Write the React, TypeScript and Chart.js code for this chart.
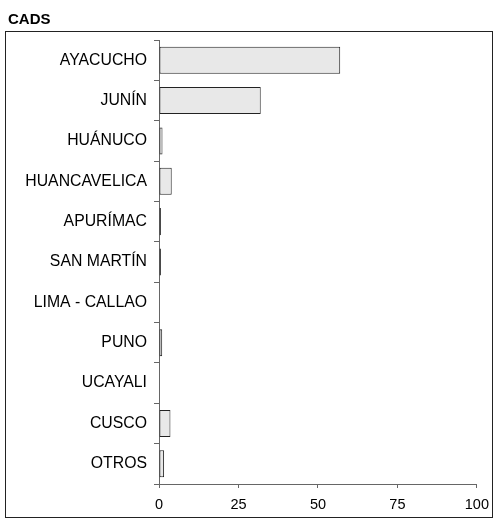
import React, { useEffect, useRef } from "react";
import { Chart, registerables } from "chart.js";

Chart.register(...registerables);

const title = "CADS";
const categories = [
  "AYACUCHO",
  "JUNÍN",
  "HUÁNUCO",
  "HUANCAVELICA",
  "APURÍMAC",
  "SAN MARTÍN",
  "LIMA - CALLAO",
  "PUNO",
  "UCAYALI",
  "CUSCO",
  "OTROS",
];
const values = [57, 32, 1.1, 4, 0.6, 0.6, 0, 1, 0, 3.6, 1.6];
const xTicks = [0, 25, 50, 75, 100];

const FONT = "Arial, 'Liberation Sans', sans-serif";

const framePlugin = {
  id: "frame",
  beforeDraw(chart: any) {
    const ctx = chart.ctx;
    ctx.save();
    ctx.fillStyle = "#ffffff";
    ctx.fillRect(0, 0, chart.width, chart.height);
    ctx.strokeStyle = "#222222";
    ctx.lineWidth = 1;
    ctx.strokeRect(5.5, 31.5, 487, 486);
    ctx.fillStyle = "#000000";
    ctx.font = "bold 15px " + FONT;
    ctx.textBaseline = "alphabetic";
    ctx.textAlign = "left";
    ctx.fillText(title, 8, 24);
    ctx.restore();
  },
};

export default function App() {
  const ref = useRef<HTMLCanvasElement | null>(null);
  useEffect(() => {
    document.body.style.margin = "0";
    const canvas = ref.current;
    if (!canvas) return;
    const chart = new Chart(canvas, {
      type: "bar",
      data: {
        labels: categories,
        datasets: [
          {
            data: values,
            backgroundColor: "#e8e8e8",
            borderColor: "#222222",
            borderWidth: 1,
            borderSkipped: false,
            barPercentage: 0.67,
            categoryPercentage: 1,
          },
        ],
      },
      options: {
        indexAxis: "y",
        animation: false,
        responsive: false,
        maintainAspectRatio: false,
        layout: { padding: { left: 5, top: 40, right: 18, bottom: 6 } },
        plugins: {
          legend: { display: false },
          title: { display: false },
          tooltip: { enabled: false },
        },
        scales: {
          x: {
            type: "linear",
            min: 0,
            max: 100,
            afterBuildTicks: (axis: any) => {
              axis.ticks = xTicks.map((v) => ({ value: v }));
            },
            afterFit: (axis: any) => {
              axis.height = 33;
            },
            grid: {
              drawOnChartArea: false,
              color: "#666666",
              tickLength: 4,
            },
            border: { display: true, color: "#666666", width: 1 },
            ticks: {
              color: "#000000",
              font: { family: FONT, size: 14.5 },
              padding: 8,
              maxRotation: 0,
            },
          },
          y: {
            type: "category",
            offset: true,
            afterFit: (axis: any) => {
              axis.width = 154;
            },
            grid: {
              offset: true,
              drawOnChartArea: false,
              color: "#666666",
              tickLength: 5,
            },
            border: { display: true, color: "#666666", width: 1 },
            ticks: {
              color: "#000000",
              font: { family: FONT, size: 15.8 },
              padding: 7,
            },
          },
        },
      },
      plugins: [framePlugin],
    });
    return () => chart.destroy();
  }, []);
  return (
    <div style={{ width: 497, height: 523 }}>
      <canvas ref={ref} width={497} height={523} style={{ display: "block", width: 497, height: 523 }} />
    </div>
  );
}
